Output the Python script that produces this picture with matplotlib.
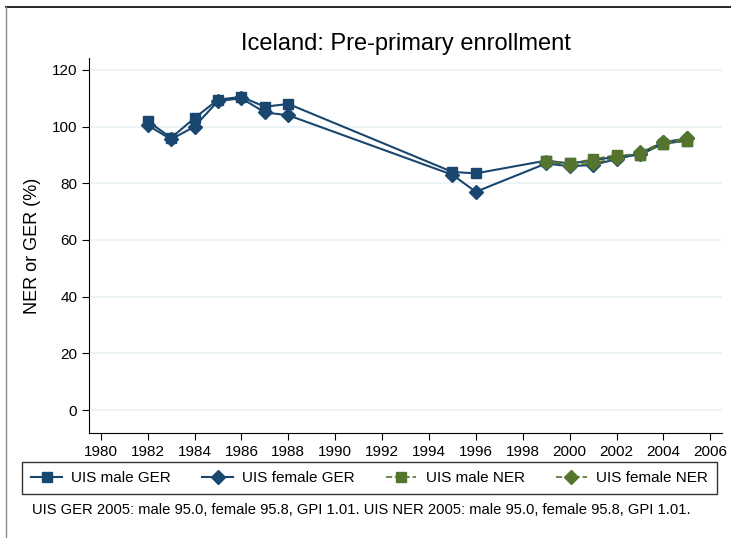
import matplotlib
matplotlib.use('Agg')
import matplotlib.pyplot as plt
from matplotlib.lines import Line2D

# data
years_ger = [1982, 1983, 1984, 1985, 1986, 1987, 1988, 1995, 1996,
             1999, 2000, 2001, 2002, 2003, 2004, 2005]
male_ger = [102, 96, 103, 109.5, 110.5, 107, 108, 84, 83.5,
            88, 87, 88, 89.5, 90, 94, 95.0]
female_ger = [100.5, 95.5, 100, 109, 110, 105, 104, 83, 77,
              87, 86, 86.5, 88.5, 90.5, 94.5, 95.8]
years_ner = [1999, 2000, 2001, 2002, 2003, 2004, 2005]
male_ner = [88, 87, 88.5, 90, 90, 94, 95.0]
female_ner = [87.5, 86.5, 87, 89, 91, 94.5, 95.8]

xticks = list(range(1980, 2007, 2))
yticks = [0, 20, 40, 60, 80, 100, 120]

navy = '#1a476f'
green = '#55752f'

plt.rcParams['font.family'] = ['Liberation Sans', 'DejaVu Sans']

fig = plt.figure(figsize=(7.31, 5.38), dpi=100)
ax = fig.add_axes([89/731, 1 - 433/538, (722-89)/731, (433-58)/538])

ax.plot(years_ger, male_ger, color=navy, lw=1.5, marker='s', ms=7, zorder=3)
ax.plot(years_ger, female_ger, color=navy, lw=1.5, marker='D', ms=7, zorder=3)
ax.plot(years_ner, male_ner, color=green, lw=1.2, ls='--', marker='s', ms=7, zorder=4)
ax.plot(years_ner, female_ner, color=green, lw=1.2, ls='--', marker='D', ms=7, zorder=4)

ax.set_xlim(1979.5, 2006.5)
ax.set_ylim(-8.1, 124.2)
ax.set_xticks(xticks)
ax.set_yticks(yticks)
ax.tick_params(labelsize=11, length=5, color='black')
ax.yaxis.grid(True, color='#eaf2f3', lw=1.2)
ax.set_axisbelow(True)
for s in ['top', 'right']:
    ax.spines[s].set_visible(False)
ax.set_ylabel('NER or GER (%)', fontsize=13, labelpad=8)
ax.set_title('Iceland: Pre-primary enrollment', fontsize=17, pad=6)

handles = [
    Line2D([], [], color=navy, lw=1.5, marker='s', ms=7),
    Line2D([], [], color=navy, lw=1.5, marker='D', ms=7),
    Line2D([], [], color=green, lw=1.2, ls='--', marker='s', ms=7),
    Line2D([], [], color=green, lw=1.2, ls='--', marker='D', ms=7),
]
labels = ['UIS male GER', 'UIS female GER', 'UIS male NER', 'UIS female NER']
leg = fig.legend(handles, labels, loc='center', ncol=4, fontsize=11,
                 bbox_to_anchor=(369.5/731, 1 - 478/538), frameon=True,
                 fancybox=False, edgecolor='black', handlelength=2.0,
                 handletextpad=0.6, columnspacing=2.05, borderpad=0.6)
leg.get_frame().set_linewidth(1.0)

fig.text(32/731, 1 - 510/538,
         'UIS GER 2005: male 95.0, female 95.8, GPI 1.01. UIS NER 2005: male 95.0, female 95.8, GPI 1.01.',
         fontsize=10.6, va='center')

# frame lines at the top and left of the picture
fig.add_artist(Line2D([6/731, 1], [1 - 7/538, 1 - 7/538], color='black', lw=1.2))
fig.add_artist(Line2D([6/731, 6/731], [0, 1 - 7/538], color='#888888', lw=1.0))

plt.savefig('out.png', dpi=100)
